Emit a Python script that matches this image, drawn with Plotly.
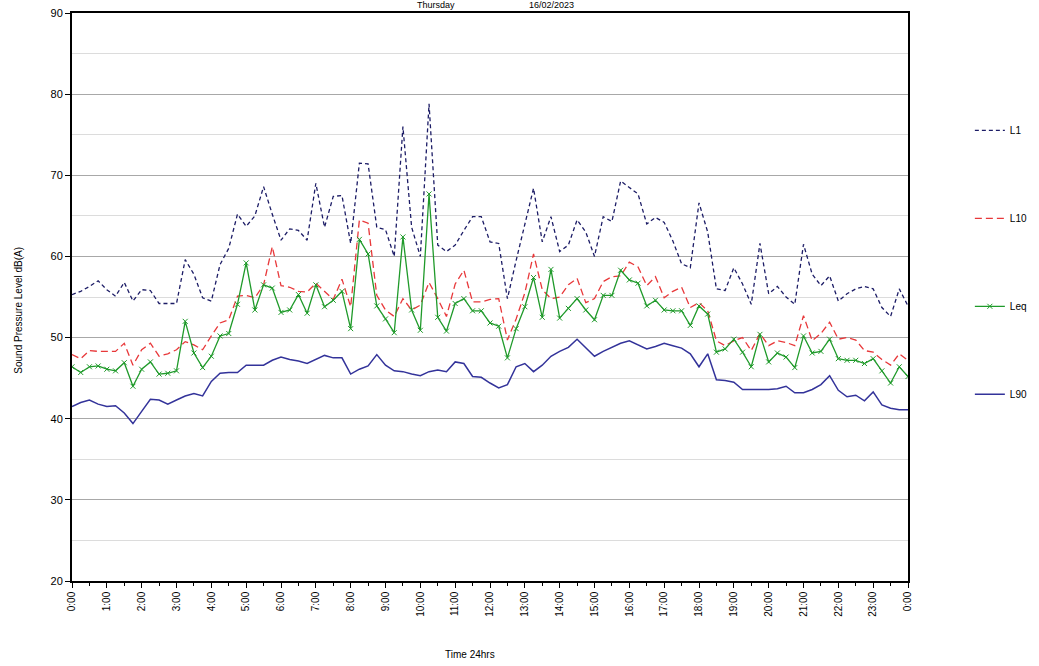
import plotly.graph_objects as go

# 15-minute intervals over 24 hours (0:00 .. 24:00)
n_points = 97
hours = [i * 0.25 for i in range(n_points)]

L1 = [55.3, 55.7, 56.3, 57.0, 55.9, 55.1, 56.8, 54.5, 55.9, 55.8, 54.2, 54.2, 54.2, 59.6, 57.8, 54.9, 54.5,
      59.0, 61.0, 65.2, 63.7, 65.0, 68.6, 65.2, 62.0, 63.4, 63.2, 62.0, 69.0, 63.6, 67.4, 67.5, 61.6,
      71.5, 71.4, 63.6, 63.3, 60.0, 76.0, 63.6, 60.0, 78.8, 61.4, 60.6, 61.4, 63.2, 64.9, 64.9, 61.8,
      61.6, 54.8, 59.5, 64.1, 68.4, 61.8, 64.9, 60.6, 61.4, 64.5, 63.0, 60.0, 64.9, 64.3, 69.3, 68.5,
      67.7, 64.0, 64.8, 64.2, 61.9, 59.1, 58.6, 66.6, 63.0, 56.0, 55.8, 58.6, 56.6, 54.1, 61.6, 55.4,
      56.3, 55.0, 54.1, 61.5, 57.8, 56.4, 57.6, 54.5, 55.4, 56.0, 56.3, 56.0, 53.7, 52.6, 56.0, 53.9]

L10 = [47.9, 47.4, 48.4, 48.3, 48.3, 48.3, 49.3, 46.6, 48.5, 49.3, 47.7, 48.0, 48.5, 49.5, 49.1, 48.5, 50.2,
       51.8, 52.2, 55.1, 55.2, 54.9, 56.5, 61.2, 56.4, 56.2, 55.7, 55.6, 56.7, 55.7, 54.7, 57.2, 53.8,
       64.5, 64.1, 55.2, 53.4, 52.6, 54.8, 53.4, 54.0, 56.8, 54.8, 52.6, 56.6, 58.3, 54.4, 54.4, 54.7,
       54.8, 49.7, 52.3, 55.5, 60.3, 55.9, 54.8, 55.0, 56.5, 57.3, 54.3, 54.8, 56.9, 57.5, 57.6, 59.3,
       58.7, 56.4, 57.5, 54.9, 55.7, 56.2, 53.7, 54.3, 53.3, 49.6, 49.0, 49.6, 50.0, 48.4, 50.5, 49.0,
       49.6, 49.4, 49.0, 52.7, 49.6, 50.5, 51.9, 49.8, 50.0, 49.7, 48.4, 48.2, 47.3, 46.6, 48.0, 47.2]

Leq = [46.4, 45.7, 46.4, 46.5, 46.1, 45.9, 46.9, 44.0, 46.1, 47.0, 45.5, 45.6, 45.9, 52.0, 48.1, 46.3, 47.7,
       50.2, 50.5, 54.1, 59.2, 53.4, 56.5, 56.1, 53.1, 53.4, 55.3, 53.0, 56.5, 53.8, 54.6, 55.7, 51.1,
       62.1, 60.3, 53.9, 52.3, 50.6, 62.4, 53.4, 50.9, 67.7, 52.5, 50.8, 54.2, 54.8, 53.3, 53.3, 51.8,
       51.4, 47.5, 51.1, 53.8, 57.4, 52.5, 58.4, 52.4, 53.6, 54.8, 53.4, 52.2, 55.2, 55.2, 58.3, 57.1,
       56.7, 53.9, 54.6, 53.4, 53.3, 53.3, 51.5, 53.9, 52.9, 48.2, 48.6, 49.8, 48.2, 46.4, 50.4, 47.0,
       48.1, 47.6, 46.3, 50.2, 48.1, 48.3, 49.8, 47.4, 47.2, 47.2, 46.8, 47.4, 45.9, 44.4, 46.4, 45.2]

L90 = [41.5, 42.0, 42.3, 41.8, 41.5, 41.6, 40.7, 39.4, 40.9, 42.4, 42.3, 41.8, 42.3, 42.8, 43.1, 42.8, 44.6,
       45.6, 45.7, 45.7, 46.6, 46.6, 46.6, 47.2, 47.6, 47.3, 47.1, 46.8, 47.3, 47.8, 47.5, 47.5, 45.5,
       46.1, 46.5, 47.9, 46.6, 45.9, 45.8, 45.5, 45.3, 45.8, 46.0, 45.8, 47.0, 46.8, 45.2, 45.1, 44.4,
       43.8, 44.2, 46.4, 46.8, 45.8, 46.6, 47.7, 48.3, 48.8, 49.8, 48.7, 47.7, 48.3, 48.8, 49.3, 49.6,
       49.1, 48.6, 48.9, 49.3, 49.0, 48.7, 48.0, 46.4, 48.0, 44.8, 44.7, 44.5, 43.6, 43.6, 43.6, 43.6,
       43.7, 44.0, 43.2, 43.2, 43.6, 44.2, 45.3, 43.5, 42.7, 42.9, 42.2, 43.3, 41.7, 41.3, 41.1, 41.1]

tick_vals = list(range(25))
tick_text = [f"{h % 24}:00" for h in tick_vals]

FONT = "Liberation Sans, Arial, sans-serif"

fig = go.Figure()
fig.add_trace(go.Scatter(x=hours, y=L1, mode="lines", name="L1", legendgroup="a",
                         line=dict(color="#1c1c66", width=1.3, dash="4px,3px")))
fig.add_trace(go.Scatter(x=hours, y=L10, mode="lines", name="L10", legendgroup="b",
                         line=dict(color="#e8383a", width=1.3, dash="7px,4px")))
fig.add_trace(go.Scatter(x=hours, y=Leq, mode="lines+markers", name="Leq", legendgroup="c",
                         line=dict(color="#1f9a2a", width=1.3),
                         marker=dict(symbol="x-thin", size=5, color="#1f9a2a",
                                     line=dict(color="#1f9a2a", width=1))))
fig.add_trace(go.Scatter(x=hours, y=L90, mode="lines", name="L90", legendgroup="d",
                         line=dict(color="#33339a", width=1.5)))

fig.update_layout(
    width=1039, height=666,
    margin=dict(l=72, r=131, t=13, b=85, autoexpand=False),
    paper_bgcolor="white", plot_bgcolor="white",
    font=dict(family=FONT, size=11, color="black"),
    showlegend=True,
    legend=dict(x=1.074, y=0.819, xanchor="left", yanchor="top",
                traceorder="grouped", tracegroupgap=69,
                font=dict(family=FONT, size=10, color="black"),
                itemwidth=30, bgcolor="rgba(0,0,0,0)"),
    xaxis=dict(range=[0, 24], tickmode="array", tickvals=tick_vals, ticktext=tick_text,
               tickangle=-90, ticks="outside", ticklen=5, tickcolor="black", automargin=False,
               showgrid=False, zeroline=False, showline=True, linecolor="black",
               linewidth=1.5, mirror=True,
               minor=dict(dtick=0.5, tick0=0, ticks="outside", ticklen=3, tickcolor="black",
                          showgrid=False),
               tickfont=dict(family=FONT, size=10)),
    yaxis=dict(range=[20, 90], dtick=10, tick0=20, ticks="outside", ticklen=5, automargin=False,
               tickcolor="black", showgrid=True, gridcolor="#a8a8a8", gridwidth=1,
               zeroline=False, showline=True, linecolor="black", linewidth=2, mirror=True,
               minor=dict(dtick=5, tick0=20, showgrid=True, gridcolor="#dcdcdc", gridwidth=1,
                          ticks=""),
               tickfont=dict(family=FONT, size=11)),
    annotations=[
        dict(text="Time 24hrs", xref="paper", yref="paper", x=0.476, y=-0.130,
             xanchor="center", yanchor="middle", showarrow=False,
             font=dict(family=FONT, size=10)),
        dict(text="Sound Pressure Level dB(A)", xref="paper", yref="paper", x=-0.065, y=0.477,
             xanchor="center", yanchor="middle", showarrow=False, textangle=-90,
             font=dict(family=FONT, size=10)),
        dict(text="Thursday", xref="paper", yref="paper", x=(436 - 72) / 836, y=1.0,
             yshift=1, xanchor="center", yanchor="bottom", showarrow=False,
             font=dict(family=FONT, size=9)),
        dict(text="16/02/2023", xref="paper", yref="paper", x=(551 - 72) / 836, y=1.0,
             yshift=1, xanchor="center", yanchor="bottom", showarrow=False,
             font=dict(family=FONT, size=9)),
    ],
)

fig.write_html("out.html", config={"displayModeBar": False},
               post_script="document.body.style.margin='0';document.body.style.padding='0';")
